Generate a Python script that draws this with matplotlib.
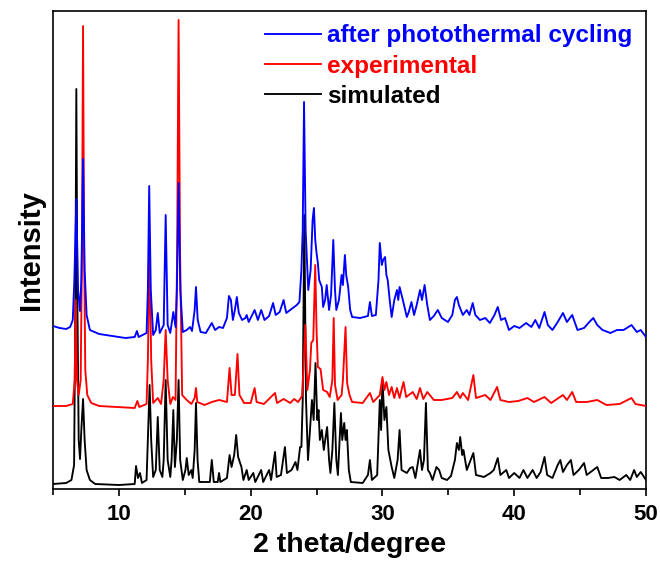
import matplotlib
matplotlib.use("Agg")
import matplotlib.pyplot as plt
from matplotlib.ticker import MultipleLocator

plt.rcParams['font.family'] = ['Liberation Sans', 'DejaVu Sans']

# ---- data: 2theta (deg) and intensity (a.u.) ----
sim_2theta = [5.0, 6.0, 6.4, 6.6, 6.7, 6.77, 6.85, 6.95, 7.05, 7.15, 7.28, 7.4, 7.55, 7.8, 8.2, 10.0,
              11.2, 11.3, 11.45, 11.6, 11.75, 12.1, 12.2, 12.33, 12.45, 12.6, 12.8, 12.95, 13.1, 13.3,
              13.4, 13.55, 13.7, 13.9, 14.0, 14.13, 14.25, 14.4, 14.53, 14.65, 14.85, 15.05, 15.15,
              15.3, 15.5, 15.6, 15.75, 15.85, 15.97, 16.1, 16.9, 17.05, 17.2, 17.5, 17.6, 17.7, 18.2,
              18.4, 18.55, 18.75, 18.9, 19.05, 19.3, 19.45, 19.7, 19.85, 20.2, 20.35, 20.8, 20.95,
              21.4, 21.55, 21.85, 21.97, 22.3, 22.6, 22.75, 23.1, 23.4, 23.55, 23.75, 23.85, 23.95,
              24.07, 24.2, 24.35, 24.5, 24.65, 24.78, 24.92, 25.05, 25.15, 25.25, 25.4, 25.55, 25.8,
              25.95, 26.05, 26.2, 26.35, 26.5, 26.62, 26.75, 26.85, 26.95, 27.1, 27.2, 27.3, 27.45,
              27.6, 28.5, 28.9, 29.05, 29.2, 29.6, 29.8, 29.9, 30.0, 30.15, 30.3, 30.45, 30.7, 30.9,
              31.15, 31.3, 31.45, 31.85, 32.1, 32.3, 32.5, 32.85, 33.0, 33.15, 33.3, 33.45, 33.6,
              33.8, 34.1, 34.3, 34.5, 34.9, 35.2, 35.5, 35.65, 35.8, 35.9, 36.05, 36.15, 36.4, 36.9,
              37.1, 37.7, 38.2, 38.45, 38.75, 38.95, 39.4, 39.6, 40.0, 40.4, 40.7, 41.0, 41.4, 41.7,
              42.0, 42.3, 42.5, 42.9, 43.3, 43.5, 43.7, 44.0, 44.3, 44.5, 44.9, 45.3, 45.5, 46.0,
              46.3, 46.6, 47.1, 47.6, 48.0, 48.5, 48.8, 49.1, 49.3, 49.6, 50.0]
sim_int = [5, 6, 9, 24, 189, 400, 189, 49, 30, 59, 90, 49, 19, 9, 5, 4,
           5, 23, 11, 16, 6, 9, 49, 104, 49, 12, 19, 72, 19, 12,
           29, 109, 29, 12, 29, 79, 22, 49, 109, 29, 9, 19, 31,
           14, 19, 11, 39, 86, 29, 7, 7, 29, 7, 7, 16, 7, 11,
           34, 22, 34, 54, 32, 22, 9, 19, 9, 16, 7, 19, 7,
           19, 9, 37, 12, 14, 42, 16, 19, 27, 19, 42, 42, 89,
           274, 89, 29, 59, 89, 69, 126, 69, 79, 49, 59, 39, 62,
           29, 16, 39, 86, 29, 14, 49, 76, 49, 66, 49, 59, 19,
           7, 6, 14, 29, 9, 14, 89, 59, 109, 69, 82, 39, 22, 11,
           29, 59, 19, 16, 21, 22, 11, 39, 19, 29, 86, 19, 16,
           9, 22, 19, 11, 9, 13, 29, 46, 39, 52, 34, 39, 19, 36,
           14, 12, 16, 19, 31, 14, 19, 11, 16, 11, 19, 11, 19, 11,
           17, 32, 14, 11, 24, 29, 17, 24, 29, 14, 19, 26, 14, 19,
           22, 11, 11, 12, 9, 14, 9, 19, 12, 17, 9]

exp_2theta = [5.0, 6.0, 6.5, 6.65, 6.72, 6.82, 6.95, 7.1, 7.2, 7.28, 7.36, 7.45, 7.6, 7.9, 8.5, 11.2,
              11.4, 11.55, 12.1, 12.2, 12.33, 12.45, 12.6, 12.95, 13.2, 13.4, 13.55, 13.7, 13.9, 14.1,
              14.3, 14.42, 14.53, 14.64, 14.8, 15.15, 15.5, 15.75, 15.85, 15.95, 16.5, 17.05, 17.6,
              18.2, 18.4, 18.55, 18.8, 19.0, 19.15, 19.5, 20.0, 20.3, 20.45, 21.0, 21.85, 22.0, 22.5,
              23.0, 23.3, 23.6, 23.9, 24.0, 24.15, 24.3, 24.5, 24.6, 24.75, 24.9, 25.0, 25.1, 25.3,
              25.5, 25.8, 26.0, 26.2, 26.3, 26.4, 26.6, 26.9, 27.0, 27.2, 27.32, 27.5, 27.7, 28.5,
              29.05, 29.3, 29.8, 30.0, 30.15, 30.3, 30.5, 30.7, 30.9, 31.1, 31.3, 31.6, 31.8, 32.3,
              32.6, 32.85, 33.1, 33.4, 33.9, 34.5, 35.3, 35.65, 35.9, 36.1, 36.5, 36.9, 37.1, 37.8,
              38.2, 38.7, 38.95, 39.6, 40.3, 41.0, 41.5, 42.3, 42.8, 43.7, 44.0, 44.4, 44.7, 45.5,
              46.3, 47.0, 48.0, 48.9, 49.2, 50.0]
exp_int = [3, 3, 5, 29, 109, 29, 14, 29, 159, 383, 159, 39, 14, 6, 3, 1,
           8, 2, 5, 49, 159, 49, 6, 11, 5, 29, 79, 29, 5, 12,
           9, 159, 389, 159, 14, 9, 5, 11, 21, 7, 4, 7, 9,
           7, 41, 14, 14, 55, 14, 6, 6, 21, 7, 5, 16, 6, 10,
           6, 10, 7, 13, 39, 84, 19, 39, 66, 69, 144, 79, 42, 40,
           19, 17, 12, 29, 91, 24, 9, 14, 29, 82, 26, 14, 7, 6,
           16, 7, 14, 32, 19, 27, 14, 22, 11, 21, 11, 27, 12, 17,
           10, 21, 10, 17, 9, 9, 11, 17, 11, 16, 9, 34, 11, 14,
           9, 22, 9, 7, 8, 11, 7, 12, 6, 14, 9, 17, 7, 7,
           9, 4, 5, 11, 5, 3]

cyc_2theta = [5.0, 5.5, 6.0, 6.3, 6.5, 6.62, 6.77, 6.9, 7.05, 7.15, 7.28, 7.4, 7.55, 7.8, 8.5, 9.5,
              10.5, 11.2, 11.37, 11.5, 12.1, 12.2, 12.3, 12.42, 12.6, 12.8, 12.95, 13.1, 13.4, 13.55,
              13.7, 13.9, 14.13, 14.3, 14.4, 14.53, 14.66, 14.85, 15.15, 15.4, 15.55, 15.75, 15.85,
              15.98, 16.2, 16.6, 17.05, 17.3, 17.6, 17.9, 18.2, 18.35, 18.5, 18.65, 18.8, 18.95, 19.1,
              19.35, 19.6, 19.7, 19.85, 20.3, 20.55, 20.8, 21.05, 21.4, 21.7, 21.9, 22.2, 22.5, 22.7,
              23.0, 23.5, 23.7, 23.85, 23.95, 24.05, 24.17, 24.37, 24.55, 24.7, 24.8, 24.9, 25.0,
              25.1, 25.2, 25.4, 25.5, 25.65, 25.77, 25.95, 26.1, 26.27, 26.4, 26.5, 26.7, 26.9, 27.0,
              27.15, 27.25, 27.4, 27.55, 27.7, 28.3, 28.9, 29.05, 29.2, 29.5, 29.7, 29.8, 29.95,
              30.05, 30.2, 30.3, 30.4, 30.55, 30.7, 30.9, 31.1, 31.2, 31.3, 31.45, 31.55, 31.85, 32.0,
              32.2, 32.4, 32.6, 32.85, 33.0, 33.2, 33.4, 33.6, 33.9, 34.2, 34.5, 34.97, 35.3, 35.5,
              35.65, 35.8, 36.1, 36.4, 36.6, 36.85, 37.05, 37.4, 37.8, 38.15, 38.5, 38.75, 39.0, 39.3,
              39.6, 40.0, 40.4, 40.9, 41.3, 41.6, 41.9, 42.3, 42.55, 42.9, 43.3, 43.7, 44.0, 44.4,
              44.8, 45.3, 45.7, 46.0, 46.3, 46.7, 47.3, 47.8, 48.3, 48.9, 49.3, 49.6, 50.0]
cyc_int = [13, 11, 10, 12, 19, 59, 140, 49, 28, 59, 180, 69, 24, 9, 5, 3,
           1, 2, 8, 2, 6, 49, 153, 49, 4, 9, 26, 6, 14, 124,
           14, 6, 27, 12, 49, 156, 49, 7, 9, 12, 8, 29, 52,
           19, 7, 6, 16, 9, 12, 11, 21, 43, 39, 19, 29, 42, 26,
           19, 21, 24, 17, 29, 19, 29, 19, 23, 36, 24, 27, 39, 26,
           29, 34, 37, 69, 109, 237, 109, 49, 69, 119, 131, 99, 86,
           76, 59, 52, 32, 39, 54, 29, 44, 99, 49, 29, 39, 64, 54,
           84, 64, 52, 29, 22, 21, 23, 37, 23, 24, 59, 96, 74,
           79, 82, 64, 59, 39, 22, 39, 49, 39, 52, 44, 39, 22, 27,
           37, 24, 34, 49, 39, 54, 34, 19, 23, 29, 21, 17, 24, 39,
           42, 34, 24, 29, 24, 36, 24, 19, 21, 16, 24, 32, 19, 21,
           9, 13, 11, 16, 12, 19, 11, 27, 14, 9, 17, 26, 17, 24,
           9, 11, 17, 21, 14, 9, 6, 9, 9, 14, 7, 9, 2]

labels = ['after photothermal cycling', 'experimental', 'simulated']
colors = ['#0000ff', '#ff0000', '#000000']
offsets = [150, 80, 0]

fig = plt.figure(figsize=(6.6, 5.67), dpi=100)
ax = fig.add_axes([53 / 660, 1 - 489 / 567, 593 / 660, 478 / 567])

series = [(cyc_2theta, cyc_int), (exp_2theta, exp_int), (sim_2theta, sim_int)]
zorders = [4, 3, 2]
for (xs, ys), lab, col, off, z in zip(series, labels, colors, offsets, zorders):
    ax.plot(xs, [v + off for v in ys], color=col, lw=1.35, label=lab, zorder=z,
            solid_joinstyle='round')

ax.set_xlim(5, 50)
ax.set_ylim(0, 478)
ax.xaxis.set_major_locator(MultipleLocator(10))
ax.xaxis.set_minor_locator(MultipleLocator(5))
ax.set_yticks([])
ax.tick_params(axis='x', which='major', direction='out', length=5, width=1.2,
               labelsize=16, pad=6)
ax.tick_params(axis='x', which='minor', direction='out', length=4, width=1.2)
for lab in ax.get_xticklabels():
    lab.set_fontweight('bold')
for sp in ax.spines.values():
    sp.set_linewidth(1.2)

ax.set_xlabel('2 theta/degree', fontsize=20.5, fontweight='bold', labelpad=5)
ax.set_ylabel('Intensity', fontsize=21, fontweight='bold', labelpad=6)

leg = ax.legend(loc='upper right', frameon=False, handlelength=2.3, handletextpad=0.25,
                labelspacing=0.3, borderaxespad=0.15, prop={'size': 17.5, 'weight': 'bold'},
                labelcolor='linecolor')
for h in leg.legend_handles:
    h.set_linewidth(1.35)

fig.savefig('out.png', dpi=100)
